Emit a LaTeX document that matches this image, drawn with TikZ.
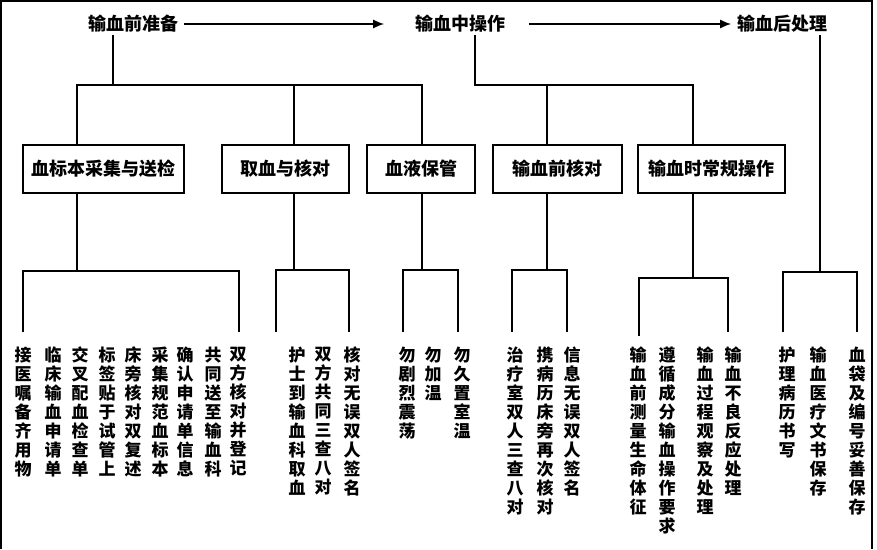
\documentclass[tikz,border=0pt]{standalone}
\usepackage{fontspec}
\setmainfont{Noto Sans CJK SC}
\usetikzlibrary{arrows.meta}
\XeTeXlinebreaklocale "zh"
\XeTeXlinebreakskip=0pt plus 1pt

\begin{document}
\begin{tikzpicture}[x=1pt,y=-1pt,>={Latex[length=11pt,width=9pt]},line width=1.6pt,
    stage/.style={font=\fontsize{18}{20}\selectfont\bfseries,inner sep=2pt},
    box/.style={draw,font=\fontsize{18}{20}\selectfont\bfseries,minimum height=48pt,inner sep=0pt},
    col/.style={anchor=north,font=\fontsize{17}{19}\selectfont\bfseries,text width=18pt,align=center,inner sep=0pt}]
        \useasboundingbox (0,0) rectangle (877,549);
        \draw (1,549) -- (1,1) -- (872,1) -- (872,549);

        \node[stage] (pre)  at (133,24) {输血前准备};
        \node[stage] (mid)  at (460,24) {输血中操作};
        \node[stage] (post) at (782,24) {输血后处理};
        \draw[->] ([xshift=3pt]pre.east) -- ([xshift=-28pt]mid.west);
        \draw[->] ([xshift=21pt]mid.east) -- ([xshift=-3pt]post.west);

        \node[box,minimum width=161pt] (b1) at (103.5,169) {血标本采集与送检};
        \node[box,minimum width=127pt] (b2) at (285.5,169) {取血与核对};
        \node[box,minimum width=108pt] (b3) at (421,169)   {血液保管};
        \node[box,minimum width=129pt] (b4) at (557.5,169) {输血前核对};
        \node[box,minimum width=147pt] (b5) at (711.5,169) {输血时常规操作};

        \coordinate (u1) at (77,85);  \coordinate (u2) at (294,85);  \coordinate (u3) at (422,85);
        \coordinate (u4) at (547,85); \coordinate (u5) at (693,85);
        \draw ([xshift=-20pt]pre.south) -- ([xshift=-20pt]pre.south |- u1);
        \draw (u1 |- b1.north) -- (u1) -- (u3) -- (u3 |- b3.north);
        \draw (u2) -- (u2 |- b2.north);
        \draw ([xshift=15pt]mid.south) |- (u5) -- (u5 |- b5.north);
        \draw (u4) -- (u4 |- b4.north);

        \coordinate (v1) at (77,271);  \coordinate (l1) at (23,332);  \coordinate (r1) at (239,332);
        \coordinate (v2) at (294,270); \coordinate (l2) at (276,332); \coordinate (r2) at (349,332);
        \coordinate (v3) at (422,270); \coordinate (l3) at (403,332); \coordinate (r3) at (458,332);
        \coordinate (v4) at (547,270); \coordinate (l4) at (512,332); \coordinate (r4) at (567,332);
        \coordinate (v5) at (693,278); \coordinate (l5) at (639,336); \coordinate (r5) at (728,332);
        \coordinate (v6) at (820,272); \coordinate (l6) at (783,332); \coordinate (r6) at (857,332);
        \foreach \g in {1,...,5}
            \draw (b\g.south -| v\g) -- (v\g);
        \draw ([xshift=38pt]post.south) -- (v6);
        \foreach \g in {1,...,6}
            \draw (l\g) |- (v\g) -| (r\g);

        \foreach \x/\t [count=\i] in {23/接医嘱备齐用物,53/临床输血申请单,80/交叉配血检查单,
            107/标签贴于试管上,133/床旁核对双复述,160/采集规范血标本,185/确认申请单信息,
            213/共同送至输血科,238/双方核对并登记}
            \node[col] (a\i) at (\x,346) {\t};
        \foreach \x/\t [count=\i] in {297/护士到输血科取血,323/双方共同三查八对,352/核对无误双人签名}
            \node[col] (c\i) at (\x,346) {\t};
        \foreach \x/\t [count=\i] in {407/勿剧烈震荡,433/勿加温,462/勿久置室温}
            \node[col] (d\i) at (\x,346) {\t};
        \foreach \x/\t [count=\i] in {515/治疗室双人三查八对,545/携病历床旁再次核对,572/信息无误双人签名}
            \node[col] (e\i) at (\x,346) {\t};
        \foreach \x/\t [count=\i] in {638/输血前测量生命体征,667/遵循成分输血操作要求,
            705/输血过程观察及处理,733/输血不良反应处理}
            \node[col] (f\i) at (\x,346) {\t};
        \foreach \x/\t [count=\i] in {787/护理病历书写,818/输血医疗文书保存,857/血袋及编号妥善保存}
            \node[col] (h\i) at (\x,346) {\t};
    \end{tikzpicture}
\end{document}
